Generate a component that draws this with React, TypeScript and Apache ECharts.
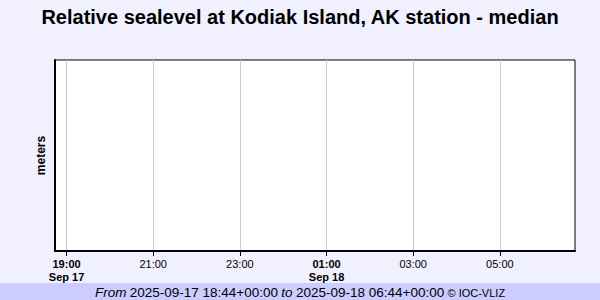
import React, { useEffect, useRef } from "react";
import * as echarts from "echarts";

const titleText = "Relative sealevel at Kodiak Island, AK station - median";
const yAxisName = "meters";
const rangeStart = "2025-09-17T18:44:00Z";
const rangeEnd = "2025-09-18T06:44:00Z";
const tickTimes = [
  "2025-09-17T19:00:00Z",
  "2025-09-17T21:00:00Z",
  "2025-09-17T23:00:00Z",
  "2025-09-18T01:00:00Z",
  "2025-09-18T03:00:00Z",
  "2025-09-18T05:00:00Z",
];
const tickLabels = ["19:00", "21:00", "23:00", "01:00", "03:00", "05:00"];
const tickDates = ["Sep 17", "", "", "Sep 18", "", ""];
const seaLevel: [number, number][] = [];
const footerFrom = "2025-09-17 18:44+00:00";
const footerTo = "2025-09-18 06:44+00:00";
const footerCredit = "© IOC-VLIZ";

export default function App() {
  const ref = useRef<HTMLDivElement>(null);
  useEffect(() => {
    if (!ref.current) return;
    const chart = echarts.init(ref.current, undefined, { renderer: "svg" });
    const tickValues = tickTimes.map((t) => Date.parse(t));
    const font = "'Liberation Sans', Arial, sans-serif";
    chart.setOption({
      animation: false,
      backgroundColor: "#f0f0ff",
      textStyle: { fontFamily: font },
      title: {
        text: titleText,
        left: "center",
        top: 2,
        textStyle: { fontSize: 20, fontWeight: "bold", color: "#000", fontFamily: font },
      },
      grid: {
        left: 55,
        right: 25,
        top: 60,
        bottom: 49,
        show: true,
        backgroundColor: "#fff",
        borderColor: "#000",
        borderWidth: 1,
      },
      xAxis: {
        type: "value",
        min: Date.parse(rangeStart),
        max: Date.parse(rangeEnd),
        axisLine: { show: true, onZero: false, lineStyle: { color: "#000", width: 2 } },
        axisTick: {
          show: true,
          customValues: tickValues,
          length: 5,
          lineStyle: { color: "#000", width: 1 },
        },
        splitLine: { show: true, lineStyle: { color: "#cccccc", width: 1 } },
        axisLabel: {
          customValues: tickValues,
          margin: 6,
          formatter: (v: number) => {
            const i = tickValues.indexOf(v);
            if (i < 0) return "";
            return tickDates[i]
              ? `{b|${tickLabels[i]}}\n{b|${tickDates[i]}}`
              : `{n|${tickLabels[i]}}`;
          },
          rich: {
            b: { fontSize: 11, fontWeight: "bold", color: "#000", lineHeight: 13, fontFamily: font },
            n: { fontSize: 11, color: "#000", lineHeight: 13, fontFamily: font },
          },
        },
      },
      yAxis: {
        type: "value",
        min: 0,
        max: 1,
        name: yAxisName,
        nameLocation: "middle",
        nameRotate: 90,
        nameGap: 8,
        nameTextStyle: { fontSize: 12, fontWeight: "bold", color: "#000", fontFamily: font },
        axisLine: { show: true, lineStyle: { color: "#000", width: 2 } },
        axisTick: { show: false },
        axisLabel: { show: false },
        splitLine: { show: false },
      },
      series: [
        {
          type: "line",
          data: seaLevel,
          showSymbol: false,
          lineStyle: { color: "#0000ff", width: 1 },
        },
      ],
      graphic: [
        {
          type: "rect",
          shape: { x: 0, y: 283, width: 600, height: 17 },
          style: { fill: "#ccccff" },
          silent: true,
        },
        {
          type: "text",
          x: 300,
          y: 292.5,
          style: {
            text: `{i|From} {n|${footerFrom}} {i|to} {n|${footerTo}} {s|${footerCredit}}`,
            align: "center",
            verticalAlign: "middle",
            rich: {
              i: { fontSize: 13.5, fontStyle: "italic", fill: "#000", fontFamily: font },
              n: { fontSize: 13.5, fill: "#000", fontFamily: font },
              s: { fontSize: 11, fill: "#000", fontFamily: font },
            },
          },
          silent: true,
        },
      ],
    });
    return () => chart.dispose();
  }, []);
  return (
    <div
      ref={ref}
      style={{ position: "fixed", left: 0, top: 0, width: 600, height: 300 }}
    />
  );
}
